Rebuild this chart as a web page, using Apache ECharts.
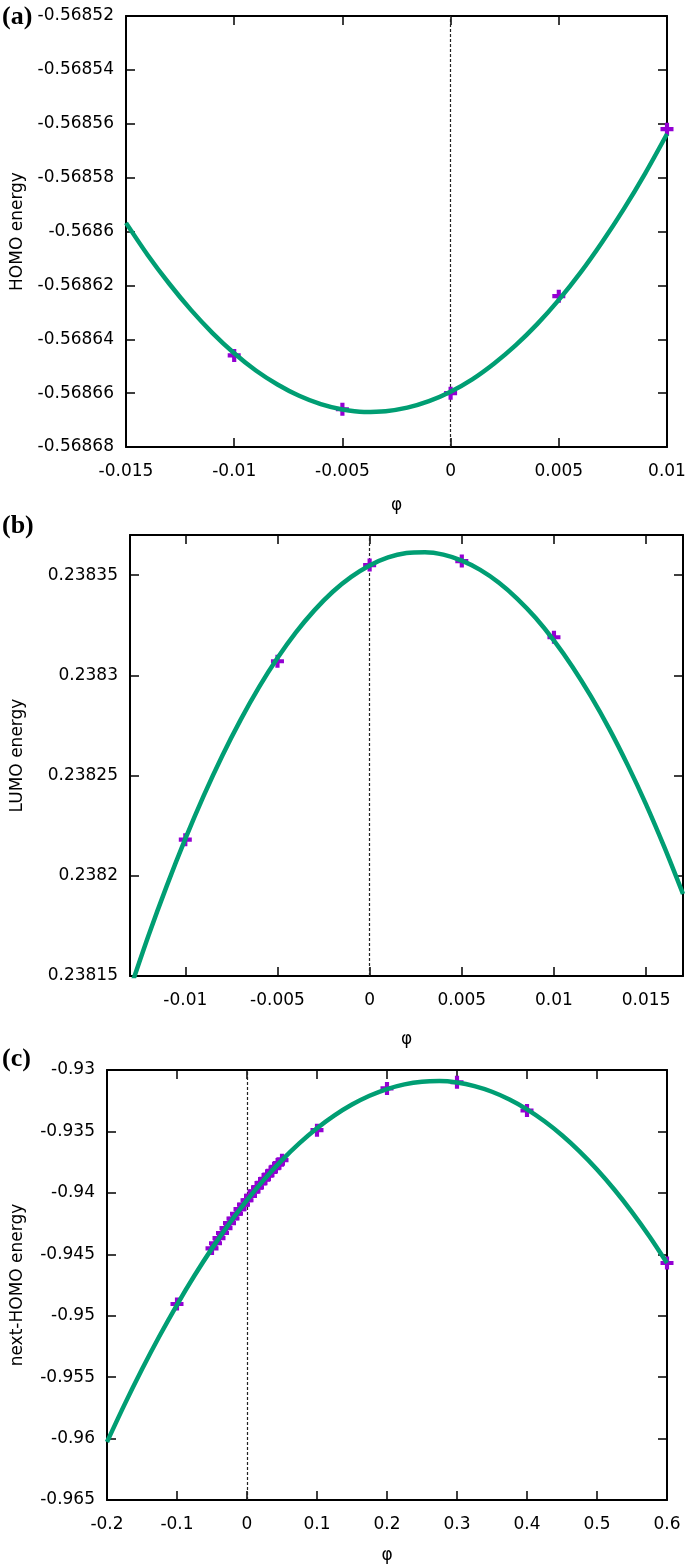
<!DOCTYPE html>
<html>
<head>
<meta charset="utf-8">
<script src="https://cdn.jsdelivr.net/npm/echarts@6/dist/echarts.min.js"></script>
<style>
  html, body { margin: 0; padding: 0; background: #fff; }
  #chart { width: 685px; height: 1567px; }
</style>
</head>
<body>
<div id="chart"></div>
<script>
// (a) HOMO energy
const homoPhi = [-0.01, -0.005, 0, 0.005, 0.01]
const homoPts = [-0.568646, -0.568666, -0.56866, -0.568624, -0.568562]
const homoFitPhi = [-0.015, -0.014, -0.013, -0.012, -0.011, -0.01, -0.009, -0.008, -0.007, -0.006, -0.005, -0.004, -0.003,
  -0.002, -0.001, 0, 0.001, 0.002, 0.003, 0.004, 0.005, 0.006, 0.007, 0.008, 0.009, 0.01]
const homoFit = [-0.5685968, -0.5686087, -0.5686194, -0.5686291, -0.5686377, -0.5686452, -0.5686516, -0.5686568, -0.568661,
  -0.5686641, -0.5686661, -0.568667, -0.5686667, -0.5686654, -0.568663, -0.5686595, -0.5686549, -0.5686491, -0.5686423,
  -0.5686344, -0.5686254, -0.5686153, -0.568604, -0.5685917, -0.5685783, -0.5685638]

// (b) LUMO energy
const lumoPhi = [-0.01, -0.005, 0, 0.005, 0.01]
const lumoPts = [0.238218, 0.238307, 0.238355, 0.238357, 0.238319]
const lumoFitPhi = [-0.013, -0.012, -0.011, -0.01, -0.009, -0.008, -0.007, -0.006, -0.005, -0.004, -0.003, -0.002, -0.001, 0,
  0.001, 0.002, 0.003, 0.004, 0.005, 0.006, 0.007, 0.008, 0.009, 0.01, 0.011, 0.012, 0.013, 0.014, 0.015, 0.016, 0.017]
const lumoFit = [0.2381432, 0.2381701, 0.2381951, 0.2382184, 0.23824, 0.2382598, 0.2382778, 0.2382941, 0.2383086, 0.2383214,
  0.2383324, 0.2383417, 0.2383491, 0.2383548, 0.2383588, 0.238361, 0.2383614, 0.2383602, 0.2383572, 0.2383526, 0.2383463,
  0.2383383, 0.2383287, 0.2383173, 0.2383043, 0.2382896, 0.2382733, 0.2382552, 0.2382355, 0.238214, 0.2381909]
const lumoXTicks = [-0.01, -0.005, 0, 0.005, 0.01, 0.015]
const lumoYTicks = [0.23815, 0.2382, 0.23825, 0.2383, 0.23835]

// (c) next-HOMO energy
const nhPhi = [-0.1, -0.05, -0.045, -0.04, -0.035, -0.03, -0.025, -0.02, -0.015, -0.01, -0.005, 0,
  0.005, 0.01, 0.015, 0.02, 0.025, 0.03, 0.035, 0.04, 0.045, 0.05, 0.1, 0.2, 0.3, 0.4, 0.6]
const nhPts = [-0.94905, -0.94452, -0.9441, -0.94368, -0.94327, -0.94287, -0.94247, -0.94209, -0.9417, -0.94133, -0.94096, -0.9406,
  -0.94024, -0.93989, -0.93955, -0.93921, -0.93888, -0.93856, -0.93825, -0.93794, -0.93763, -0.93734, -0.9349, -0.9315, -0.931, -0.9333, -0.94571]
const nhFitPhi = [-0.2, -0.175, -0.15, -0.125, -0.1, -0.075, -0.05, -0.025, 0, 0.025, 0.05, 0.075, 0.1, 0.125, 0.15, 0.175,
  0.2, 0.225, 0.25, 0.275, 0.3, 0.325, 0.35, 0.375, 0.4, 0.425, 0.45, 0.475, 0.5, 0.525, 0.55, 0.575, 0.6]
const nhFit = [-0.96028, -0.957237, -0.954361, -0.951651, -0.949108, -0.94673, -0.944519, -0.942474, -0.940596, -0.938883,
  -0.937337, -0.935957, -0.934744, -0.933696, -0.932815, -0.9321, -0.931552, -0.931169, -0.930953, -0.930903, -0.931022,
  -0.931311, -0.93177, -0.932399, -0.933198, -0.934167, -0.935306, -0.936615, -0.938094, -0.939743, -0.941562, -0.943551, -0.94571]

const FONT = 'DejaVu Sans'
const GREEN = '#009e73'
const PURPLE = '#9400d3'
const PLUS = 'path://M3.4,0h3.2v3.4h3.4v3.2h-3.4v3.4h-3.2v-3.4h-3.4v-3.2h3.4z'

const fmt = v => parseFloat(Number(v).toFixed(6)).toString()
const pair = (xs, ys) => xs.map((x, i) => [x, ys[i]])

function xAxes(grid, cfg) {
  const base = {
    type: 'value', gridIndex: grid, min: cfg.min, max: cfg.max, interval: cfg.interval,
    splitLine: { show: false },
    axisLine: { onZero: false, lineStyle: { color: '#000', width: 2 } },
    axisTick: { inside: true, length: 9, lineStyle: { color: '#000', width: 1.5 }, customValues: cfg.ticks },
  }
  return [
    {
      ...base, position: 'bottom', name: 'φ', nameLocation: 'middle', nameGap: cfg.nameGap,
      nameTextStyle: { fontFamily: FONT, fontSize: 17, color: '#000' },
      axisLabel: { fontFamily: FONT, fontSize: 17, color: '#000', margin: 16, formatter: fmt,
        showMinLabel: true, showMaxLabel: true, hideOverlap: false, customValues: cfg.ticks },
    },
    { ...base, position: 'top', axisLabel: { show: false } },
  ]
}

function yAxes(grid, cfg) {
  const base = {
    type: 'value', gridIndex: grid, min: cfg.min, max: cfg.max, interval: cfg.interval,
    splitLine: { show: false },
    axisLine: { onZero: false, lineStyle: { color: '#000', width: 2 } },
    axisTick: { inside: true, length: 9, lineStyle: { color: '#000', width: 1.5 }, customValues: cfg.ticks },
  }
  return [
    {
      ...base, position: 'left', name: cfg.name, nameLocation: 'middle', nameGap: cfg.nameGap,
      nameTextStyle: { fontFamily: FONT, fontSize: 17, color: '#000' },
      axisLabel: { fontFamily: FONT, fontSize: 17, color: '#000', margin: 12, formatter: fmt,
        showMinLabel: true, showMaxLabel: true, hideOverlap: false, customValues: cfg.ticks },
    },
    { ...base, position: 'right', axisLabel: { show: false } },
  ]
}

function panel(i, pts, fit) {
  return [
    {
      type: 'scatter', xAxisIndex: 2 * i, yAxisIndex: 2 * i, data: pts,
      symbol: PLUS, symbolSize: 13, itemStyle: { color: PURPLE, opacity: 1 }, z: 2, silent: true,
    },
    {
      type: 'line', xAxisIndex: 2 * i, yAxisIndex: 2 * i, data: fit, smooth: 0.3,
      showSymbol: false, lineStyle: { color: GREEN, width: 4.5 }, z: 3, silent: true,
      markLine: {
        silent: true, symbol: ['none', 'none'], label: { show: false },
        lineStyle: { color: '#222', width: 1.2, type: [3, 2] },
        data: [{ xAxis: 0 }], z: 1,
      },
    },
  ]
}

const chart = echarts.init(document.getElementById('chart'), null, { renderer: 'canvas' })

const option = {
  animation: false,
  backgroundColor: '#fff',
  grid: [
    { left: 126, top: 16, right: 18, height: 431, outerBoundsMode: 'none' },
    { left: 130, top: 535, right: 2, height: 441, outerBoundsMode: 'none' },
    { left: 107, top: 1070, right: 18, height: 430, outerBoundsMode: 'none' },
  ],
  xAxis: [
    ...xAxes(0, { min: -0.015, max: 0.01, interval: 0.005, nameGap: 50 }),
    ...xAxes(1, { min: -0.013, max: 0.017, ticks: lumoXTicks, nameGap: 55 }),
    ...xAxes(2, { min: -0.2, max: 0.6, interval: 0.1, nameGap: 47 }),
  ],
  yAxis: [
    ...yAxes(0, { min: -0.56868, max: -0.56852, interval: 0.00002, name: 'HOMO energy', nameGap: 100 }),
    ...yAxes(1, { min: 0.23815, max: 0.23837, ticks: lumoYTicks, name: 'LUMO energy', nameGap: 104 }),
    ...yAxes(2, { min: -0.965, max: -0.93, interval: 0.005, name: 'next-HOMO energy', nameGap: 81 }),
  ],
  graphic: [
    { type: 'text', left: 2, top: 4, style: { text: '(a)', font: 'bold 26px "Liberation Serif"', fill: '#000' } },
    { type: 'text', left: 2, top: 513, style: { text: '(b)', font: 'bold 26px "Liberation Serif"', fill: '#000' } },
    { type: 'text', left: 2, top: 1046, style: { text: '(c)', font: 'bold 26px "Liberation Serif"', fill: '#000' } },
  ],
  series: [
    ...panel(0, pair(homoPhi, homoPts), pair(homoFitPhi, homoFit)),
    ...panel(1, pair(lumoPhi, lumoPts), pair(lumoFitPhi, lumoFit)),
    ...panel(2, pair(nhPhi, nhPts), pair(nhFitPhi, nhFit)),
  ],
}

chart.setOption(option)
</script>
</body>
</html>
